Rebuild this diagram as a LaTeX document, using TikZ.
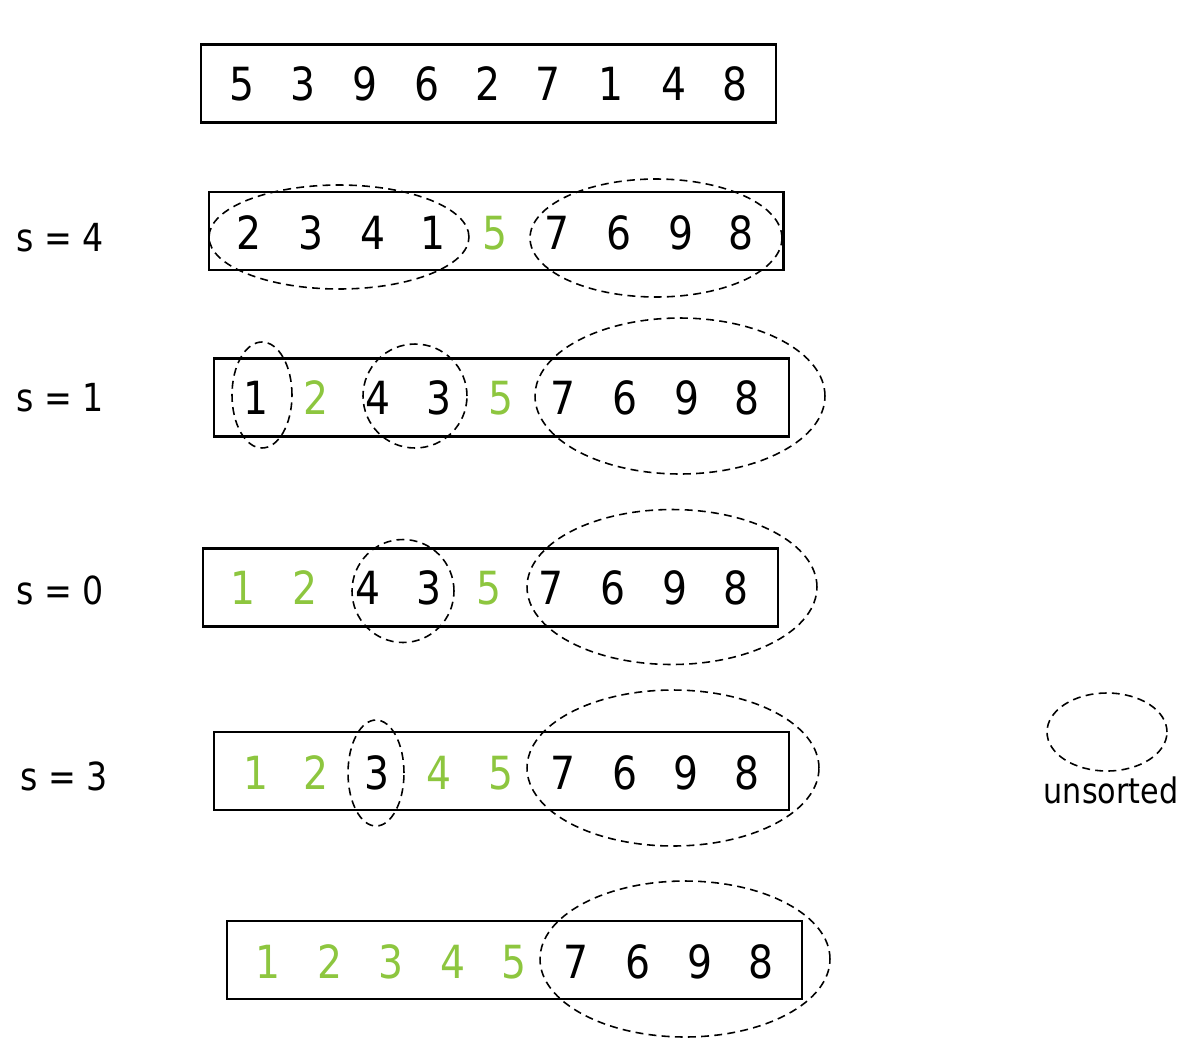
\documentclass[tikz,border=0pt]{standalone}
\usepackage{fontspec}
\setmainfont{DejaVu Sans}[FakeStretch=0.86]
\usetikzlibrary{shapes.geometric}

\definecolor{donegreen}{RGB}{141,198,63}

\tikzset{
    digit/.style={font=\fontsize{26}{26}\selectfont, inner sep=0pt, anchor=center},
    done/.style={digit, text=donegreen},
    rowbox/.style={draw, line width=1.2pt, minimum width=11.5cm, minimum height=1.56cm, inner sep=0pt},
    unsorted/.style={ellipse, draw, dash pattern=on 4.5pt off 3pt, line width=0.9pt, inner sep=0pt},
    steplabel/.style={font=\fontsize{22}{22}\selectfont, inner sep=0pt}
}

\begin{document}
\begin{tikzpicture}[x=0.02cm, y=-0.02cm]
    \useasboundingbox (0,0) rectangle (1198,1046);

    % start
    \node (r0) [rowbox] at (488.5,83.5) {};
    \foreach \d/\x [count=\i] in {5/242, 3/303, 9/365, 6/427, 2/488, 7/548, 1/611, 4/674, 8/735}
        \node (r0d\i) [digit] at (\x,84) {\d};

    % s = 4
    \node (s4) [steplabel] at (60,238) {s = 4};
    \node (r1) [rowbox] at (496,231) {};
    \foreach \d/\x [count=\i] in {2/249, 3/311, 4/373, 1/433, 7/557, 6/619, 9/681, 8/741}
        \node (r1d\i) [digit] at (\x,233) {\d};
    \node (r1p) [done] at (495,233) {5};
    \node (r1a) [unsorted, minimum width=5.2cm, minimum height=2.08cm] at (339,237) {};
    \node (r1b) [unsorted, minimum width=5.04cm, minimum height=2.36cm] at (656,238) {};

    % s = 1
    \node (s1) [steplabel] at (60,398) {s = 1};
    \node (r2) [rowbox] at (501.5,397.5) {};
    \foreach \d/\x [count=\i] in {1/256, 4/378, 3/439, 7/563, 6/625, 9/687, 8/747}
        \node (r2d\i) [digit] at (\x,398) {\d};
    \foreach \d/\x [count=\i] in {2/316, 5/501}
        \node (r2g\i) [done] at (\x,398) {\d};
    \node (r2a) [unsorted, minimum width=1.2cm, minimum height=2.12cm] at (262,395) {};
    \node (r2b) [unsorted, minimum width=2.08cm, minimum height=2.08cm] at (415,396) {};
    \node (r2c) [unsorted, minimum width=5.8cm, minimum height=3.12cm] at (680,396) {};

    % s = 0
    \node (s0) [steplabel] at (60,590) {s = 0};
    \node (r3) [rowbox] at (490.5,587.5) {};
    \foreach \d/\x [count=\i] in {4/368, 3/429, 7/551, 6/613, 9/675, 8/736}
        \node (r3d\i) [digit] at (\x,588) {\d};
    \foreach \d/\x [count=\i] in {1/243, 2/305, 5/489}
        \node (r3g\i) [done] at (\x,588) {\d};
    \node (r3a) [unsorted, minimum width=2.04cm, minimum height=2.06cm] at (403,591) {};
    \node (r3b) [unsorted, minimum width=5.8cm, minimum height=3.1cm] at (672,587) {};

    % s = 3
    \node (s3) [steplabel] at (64,776) {s = 3};
    \node (r4) [rowbox] at (501.5,771) {};
    \foreach \d/\x [count=\i] in {3/377, 7/563, 6/625, 9/686, 8/747}
        \node (r4d\i) [digit] at (\x,773) {\d};
    \foreach \d/\x [count=\i] in {1/256, 2/316, 4/439, 5/501}
        \node (r4g\i) [done] at (\x,773) {\d};
    \node (r4a) [unsorted, minimum width=1.12cm, minimum height=2.12cm] at (376,773) {};
    \node (r4b) [unsorted, minimum width=5.84cm, minimum height=3.12cm] at (673,768) {};

    % result
    \node (r5) [rowbox] at (514.5,960) {};
    \foreach \d/\x [count=\i] in {7/576, 6/638, 9/700, 8/761}
        \node (r5d\i) [digit] at (\x,962) {\d};
    \foreach \d/\x [count=\i] in {1/268, 2/330, 3/391, 4/453, 5/514}
        \node (r5g\i) [done] at (\x,962) {\d};
    \node (r5a) [unsorted, minimum width=5.8cm, minimum height=3.12cm] at (685,959) {};

    % legend
    \node (key) [unsorted, minimum width=2.4cm, minimum height=1.56cm] at (1107,732) {};
    \node (keytext) [steplabel, font=\fontsize{20}{20}\selectfont] at (1111,790) {unsorted};
\end{tikzpicture}
\end{document}
